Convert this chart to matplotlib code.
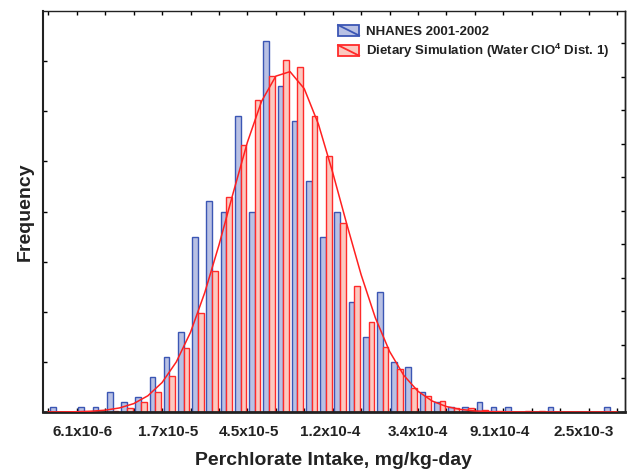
import matplotlib
matplotlib.use('Agg')
import matplotlib.pyplot as plt
import numpy as np
from matplotlib.patches import Rectangle
from matplotlib.lines import Line2D
from matplotlib.legend_handler import HandlerPatch
from matplotlib.ticker import FixedLocator

plt.rcParams['font.family'] = ['Liberation Sans', 'DejaVu Sans']
plt.rcParams['mathtext.fontset'] = 'custom'
plt.rcParams['mathtext.rm'] = 'Liberation Sans'
plt.rcParams['mathtext.bf'] = 'Liberation Sans:bold'

# ---------------- data ----------------
series_names = ['NHANES 2001-2002', r'Dietary Simulation (Water ClO$^{\mathbf{4}}$ Dist. 1)']

# counts per bin (bin 0 .. 39)
nhanes_counts = [1, 0, 1, 1, 4, 2, 3, 7, 11, 16,
                 35, 42, 40, 59, 40, 74, 65, 58, 46, 35,
                 40, 22, 15, 24, 10, 9, 4, 2, 1, 1,
                 2, 1, 1, 0, 0, 1, 0, 0, 0, 1]
simulation_freq = [0, 0, 0, 0, 0.3, 0.86, 2.05, 4.04, 7.17, 12.7,
                   19.8, 28.1, 42.9, 53.2, 62.3, 67.0, 70.3, 68.9, 59.0, 51.0,
                   37.8, 25.2, 18.0, 12.9, 8.5, 4.7, 3.2, 2.25, 0.86, 0.74,
                   0.34, 0.2, 0, 0.2, 0.2, 0, 0, 0, 0, 0]
# fitted distribution curve, read at each bin edge (edge 0 .. 40)
fit_curve = [0.01, 0.02, 0.06, 0.16, 0.37, 0.81, 1.67, 3.24, 5.88, 9.99,
             15.9, 23.8, 33.3, 43.7, 53.8, 62.0, 67.0, 67.9, 64.5, 57.4,
             47.8, 37.4, 27.4, 18.8, 12.1, 7.32, 4.14, 2.19, 1.09, 0.51,
             0.22, 0.09, 0.03, 0.01, 0, 0, 0, 0, 0, 0, 0]

bin_start_ln = -12.416   # ln(mg/kg-day) at first bin edge
bin_width_ln = 0.1706

tick_values = [6.1e-6, 1.7e-5, 4.5e-5, 1.2e-4, 3.4e-4, 9.1e-4, 2.5e-3]
tick_labels = ['6.1x10-6', '1.7x10-5', '4.5x10-5', '1.2x10-4', '3.4x10-4', '9.1x10-4', '2.5x10-3']

x_label = 'Perchlorate Intake, mg/kg-day'
y_label = 'Frequency'

# ---------------- styling ----------------
blue_face, blue_edge = '#b9c1e4', '#3b56b4'
red_face, red_edge = '#fbc9c0', '#ff2a2a'


class DiagHandler(HandlerPatch):
    def create_artists(self, legend, orig_handle, xdescent, ydescent,
                       width, height, fontsize, trans):
        ec = orig_handle.get_edgecolor()
        r = Rectangle((-xdescent, -ydescent), width, height,
                      facecolor=orig_handle.get_facecolor(), edgecolor=ec,
                      lw=1.3, transform=trans)
        l = Line2D([-xdescent, -xdescent + width],
                   [-ydescent + height, -ydescent], color=ec, lw=1.3,
                   transform=trans)
        return [r, l]


fig = plt.figure(figsize=(6.3, 4.69), dpi=100)
ax = fig.add_axes([0.0675, 0.1215, 0.9245, 0.854])

w = bin_width_ln
n = len(nhanes_counts)
edges = bin_start_ln + w * np.arange(n)
ax.bar(edges + 0.12 * w, nhanes_counts, width=0.4 * w, align='edge',
       color=blue_face, edgecolor=blue_edge, lw=1.0, zorder=2)
ax.bar(edges + 0.52 * w, simulation_freq, width=0.4 * w, align='edge',
       color=red_face, edgecolor=red_edge, lw=1.0, zorder=2)
cx = bin_start_ln + w * np.arange(len(fit_curve))
ax.plot(cx, fit_curve, color='#ff2020', lw=1.1, zorder=3)

ax.set_xlim(bin_start_ln - 0.41 * w, bin_start_ln + 40.56 * w)
ax.set_ylim(0, 79.9)

ax.set_xticks(np.log(tick_values))
ax.set_xticklabels(tick_labels, fontsize=11, fontweight='bold', color='#222222')
ax.tick_params(axis='x', which='major', length=0, pad=9)
ax.xaxis.set_minor_locator(FixedLocator(bin_start_ln + w * np.arange(0, 41, 2)))
ax.tick_params(axis='x', which='minor', direction='in', length=3, width=1,
               top=True, bottom=True)
ax.set_yticks(np.arange(0, 80, 10))
ax.set_yticklabels([])
ax.tick_params(axis='y', which='major', direction='in', length=3, width=1,
               left=True, right=False)
sec = ax.secondary_yaxis('right', functions=(lambda y: y / 6.69, lambda y: y * 6.69))
sec.set_yticks(np.arange(0, 12))
sec.set_yticklabels([])
sec.tick_params(direction='in', length=3, width=1)
sec.spines['right'].set_linewidth(1.0)

for s in ['top', 'right']:
    ax.spines[s].set_linewidth(1.0)
ax.spines['left'].set_linewidth(1.5)
ax.spines['bottom'].set_linewidth(2.0)
for s in ax.spines.values():
    s.set_color('#222222')

ax.set_xlabel(x_label, fontsize=14, fontweight='bold', color='#222222', labelpad=10)
ax.set_ylabel(y_label, fontsize=14, fontweight='bold', color='#222222', labelpad=3)

h1 = Rectangle((0, 0), 1, 1, facecolor=blue_face, edgecolor=blue_edge)
h2 = Rectangle((0, 0), 1, 1, facecolor=red_face, edgecolor=red_edge)
leg = fig.legend([h1, h2], series_names, loc='upper left',
                 bbox_to_anchor=(338 / 630, 1 - 25 / 469),
                 frameon=False, borderpad=0, borderaxespad=0,
                 handlelength=1.6, handleheight=0.85, handletextpad=0.55,
                 labelspacing=0.3, prop={'size': 9.5, 'weight': 'bold'},
                 handler_map={Rectangle: DiagHandler()})
for t in leg.get_texts():
    t.set_color('#222222')

fig.savefig('out.png', dpi=100)
